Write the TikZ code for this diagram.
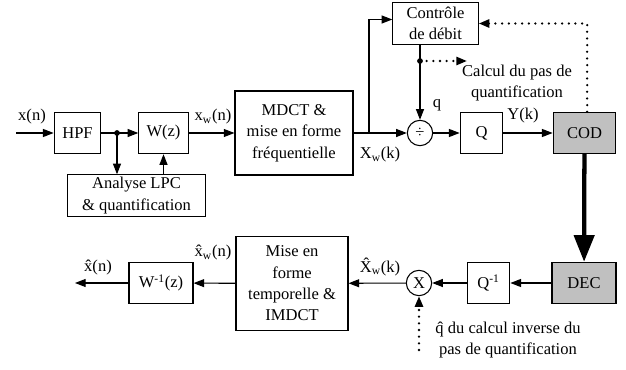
\documentclass[tikz,border=0pt]{standalone}
\usepackage{fontspec}
\setmainfont{Liberation Serif}
\usepackage{tikz}
\usetikzlibrary{arrows.meta}
\definecolor{codgray}{RGB}{192,192,192}
\tikzset{
  blk/.style={draw, line width=0.8pt, inner sep=0pt, minimum height=31pt, align=center},
  opnode/.style={draw, circle, line width=0.8pt, inner sep=0pt, minimum size=19pt},
  sig/.style={line width=0.8pt, -{Triangle[length=8pt,width=6pt]}},
  dots/.style={line width=1.9pt, line cap=round, dash pattern=on 0pt off 5pt},
  bigarrow/.style={line width=3.2pt, -{Triangle[length=20pt,width=15pt]}}
}

\begin{document}
\begin{tikzpicture}[x=0.75pt, y=-0.75pt, font=\fontsize{12.4}{16}\selectfont]
\useasboundingbox (0,0) rectangle (626,370);
\node[blk, minimum width=35pt] (hpf) at (77.5,133) {HPF};
\node[blk, minimum width=37pt] (wz) at (163.5,133) {W(z)};
\node[blk, minimum width=104pt] (lpc) at (136.5,195.5) {Analyse LPC\\\& quantification};
\node[blk, minimum width=88.5pt, minimum height=63pt] (mdct) at (294,133) {MDCT \&\\mise en forme\\fréquentielle};
\node[blk, minimum width=64pt] (ctrl) at (435.5,23.5) {Contrôle\\de débit};
\node[opnode] (div) at (420,133) {÷};
\node[blk, minimum width=32pt] (q) at (481.5,133) {Q};
\node[blk, minimum width=47pt, fill=codgray] (cod) at (584.5,133) {COD};
\node[blk, minimum width=48pt, fill=codgray] (dec) at (584,283) {DEC};
\node[blk, minimum width=32pt] (qinv) at (488.5,283) {Q\textsuperscript{-1}};
\node[opnode] (mul) at (419,283) {X};
\node[blk, minimum width=84pt, minimum height=70pt] (imdct) at (292,283.5) {Mise en\\forme\\temporelle \&\\IMDCT};
\node[blk, minimum width=48pt] (winv) at (161,283) {W\textsuperscript{-1}(z)};
\coordinate (in) at (16,133);
\coordinate (out) at (75,283);
\coordinate (lpcsplit) at (117,133);
\coordinate (xwsplit) at (369,133);
\coordinate (qsplit) at (420,61);
\coordinate (calc) at (467,61);
\coordinate (qhat) at (419,350);
\draw[sig] (in) -- (hpf);
\draw[sig] (hpf) -- (wz);
\filldraw (lpcsplit) circle (1.9pt);
\draw[sig] (lpcsplit) -- (lpcsplit |- lpc.north);
\draw[sig] (lpc.north -| wz) -- (wz);
\draw[sig] (wz) -- (mdct);
\draw[sig] (mdct) -- (div);
\draw[sig] (xwsplit) |- ([yshift=3pt]ctrl.west);
\draw[sig] (ctrl.south -| div) -- (div);
\filldraw (qsplit) circle (1.9pt);
\draw[sig, dots] (qsplit) -- (calc);
\draw[sig] (div) -- (q);
\draw[sig] (q) -- (cod);
\draw[sig, dots] ([xshift=2pt]cod.north) |- (ctrl.east);
\draw[bigarrow] (cod) -- (dec);
\draw[sig] (dec) -- (qinv);
\draw[sig] (qinv) -- (mul);
\draw[sig] (mul) -- (imdct);
\draw[sig] (imdct) -- (winv);
\draw[sig] (winv) -- (out);
\draw[sig, dots] (qhat) -- (mul);
\node (xinlbl) at (32,117) {x(n)};
\node (xwlbl) at (213,117) {x\textsubscript{w}(n)};
\node (Xwlbl) at (380,155) {X\textsubscript{w}(k)};
\node (qlbl) at (437,105) {q};
\node (ylbl) at (523,116) {Y(k)};
\node[align=center] (calclbl) at (517,83) {Calcul du pas de\\quantification};
\node (xwhatlbl) at (213,253) {\^{x}\textsubscript{w}(n)};
\node (Xwhatlbl) at (380,267) {\^{X}\textsubscript{w}(k)};
\node (xhatlbl) at (98,268) {\^{x}(n)};
\node[align=center] (qhatlbl) at (508,340) {\^{q} du calcul inverse du\\pas de quantification};
\end{tikzpicture}
\end{document}
